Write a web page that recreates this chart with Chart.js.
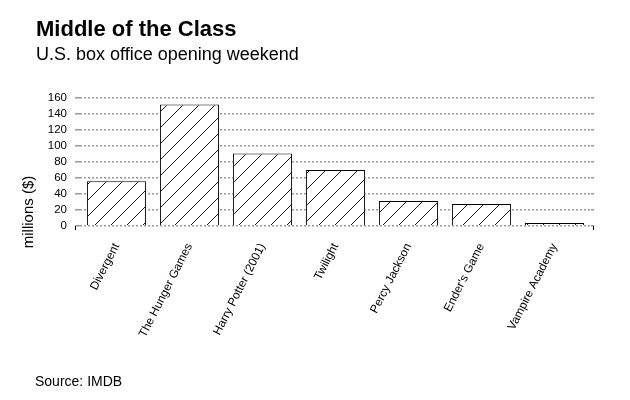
<!DOCTYPE html>
<html>
<head>
<meta charset="utf-8">
<script src="https://cdn.jsdelivr.net/npm/chart.js@4/dist/chart.umd.min.js"></script>
<style>
  html, body { margin: 0; padding: 0; background: #fff; }
  #wrap { width: 630px; height: 400px; position: relative; }
</style>
</head>
<body>
<div id="wrap"><canvas id="chart" width="630" height="400"></canvas></div>
<script>
// data
const films = ['Divergent', 'The Hunger Games', 'Harry Potter (2001)', 'Twilight', 'Percy Jackson', "Ender's Game", 'Vampire Academy'];
const openingWeekend = [56, 152, 90.5, 70, 31.2, 27.5, 3.8];
const yTicks = [0, 20, 40, 60, 80, 100, 120, 140, 160];

const titleText = 'Middle of the Class';
const subtitleText = 'U.S. box office opening weekend';
const yTitle = 'millions ($)';
const sourceText = 'Source: IMDB';

const FONT = '"Liberation Sans", Arial, Helvetica, sans-serif';
const GRID = { color: '#999', lineWidth: 1.5, drawTicks: true };

function hatch()
{
	var size = 16;
	var c = document.createElement('canvas');
	c.width = size;
	c.height = size;
	var g = c.getContext('2d');
	g.fillStyle = '#fff';
	g.fillRect(0, 0, size, size);
	g.strokeStyle = '#000';
	g.lineWidth = 0.9;
	g.beginPath();
	g.moveTo(-2, size + 2); g.lineTo(size + 2, -2);
	g.moveTo(-2, 2); g.lineTo(2, -2);
	g.moveTo(size - 2, size + 2); g.lineTo(size + 2, size - 2);
	g.stroke();
	return g.createPattern(c, 'repeat');
}

const decorations = {
	id: 'decorations',
	afterDraw: function(chart)
	{
		var ctx = chart.ctx;
		var area = chart.chartArea;
		ctx.save();
		ctx.fillStyle = '#000';
		ctx.textBaseline = 'alphabetic';
		ctx.textAlign = 'left';
		ctx.font = 'bold 22px ' + FONT;
		ctx.fillText(titleText, 36, 36);
		ctx.font = '18px ' + FONT;
		ctx.fillText(subtitleText, 36, 60);
		ctx.font = '14px ' + FONT;
		ctx.fillText(sourceText, 35, 386);

		// y axis title
		ctx.font = '15px ' + FONT;
		ctx.translate(33, 212);
		ctx.rotate(-Math.PI / 2);
		ctx.textAlign = 'center';
		ctx.fillText(yTitle, 0, 0);
		ctx.restore();

		// end brackets of the baseline
		var l = area.left - 5, r = area.right + 3;
		ctx.save();
		ctx.strokeStyle = '#000';
		ctx.lineWidth = 1;
		ctx.beginPath();
		ctx.moveTo(l + 0.5, area.bottom);
		ctx.lineTo(l + 0.5, area.bottom + 4);
		ctx.moveTo(r - 0.5, area.bottom);
		ctx.lineTo(r - 0.5, area.bottom + 4);
		ctx.stroke();
		ctx.restore();
	}
};

function fixedTicks(scale)
{
	scale.ticks = yTicks.map(function(v) { return { value: v }; });
}

new Chart(
	document.getElementById('chart')
,	{
		type: 'bar'
	,	data:
		{
			labels: films
		,	datasets:
			[
				{
					label: 'Opening weekend'
				,	data: openingWeekend
				,	backgroundColor: hatch()
				,	borderColor: '#000'
				,	borderWidth: 1
				,	barPercentage: 0.81
				,	categoryPercentage: 1
				}
			]
		}
	,	options:
		{
			responsive: false
		,	animation: false
		,	layout: { padding: { left: 0, right: 36, top: 98, bottom: 0 } }
		,	plugins:
			{
				legend: { display: false }
			,	tooltip: { enabled: false }
			}
		,	scales:
			{
				x:
				{
					grid: { display: false }
				,	border: { display: false }
				,	ticks:
					{
						color: '#000'
					,	font: { family: FONT, size: 11.8 }
					,	minRotation: 63
					,	maxRotation: 63
					,	autoSkip: false
					,	padding: 7
					}
				,	afterFit: function(scale) { scale.height = 174; }
				}
			,	y:
				{
					min: 0
				,	max: 160
				,	afterBuildTicks: fixedTicks
				,	grid: Object.assign({ tickLength: 5 }, GRID)
				,	border: { display: false, dash: [2, 2] }
				,	ticks:
					{
						color: '#000'
					,	font: { family: FONT, size: 11.5 }
					,	autoSkip: false
					,	padding: 8
					}
				,	afterFit: function(scale) { scale.width = 80; }
				}
			,	yRight:
				{
					position: 'right'
				,	min: 0
				,	max: 160
				,	afterBuildTicks: fixedTicks
				,	grid: Object.assign({ tickLength: 3, drawOnChartArea: false }, GRID)
				,	border: { display: false, dash: [2, 2] }
				,	ticks: { display: false, autoSkip: false }
				,	afterFit: function(scale) { scale.width = 3; }
				}
			}
		}
	,	plugins: [decorations]
	}
);
</script>
</body>
</html>
